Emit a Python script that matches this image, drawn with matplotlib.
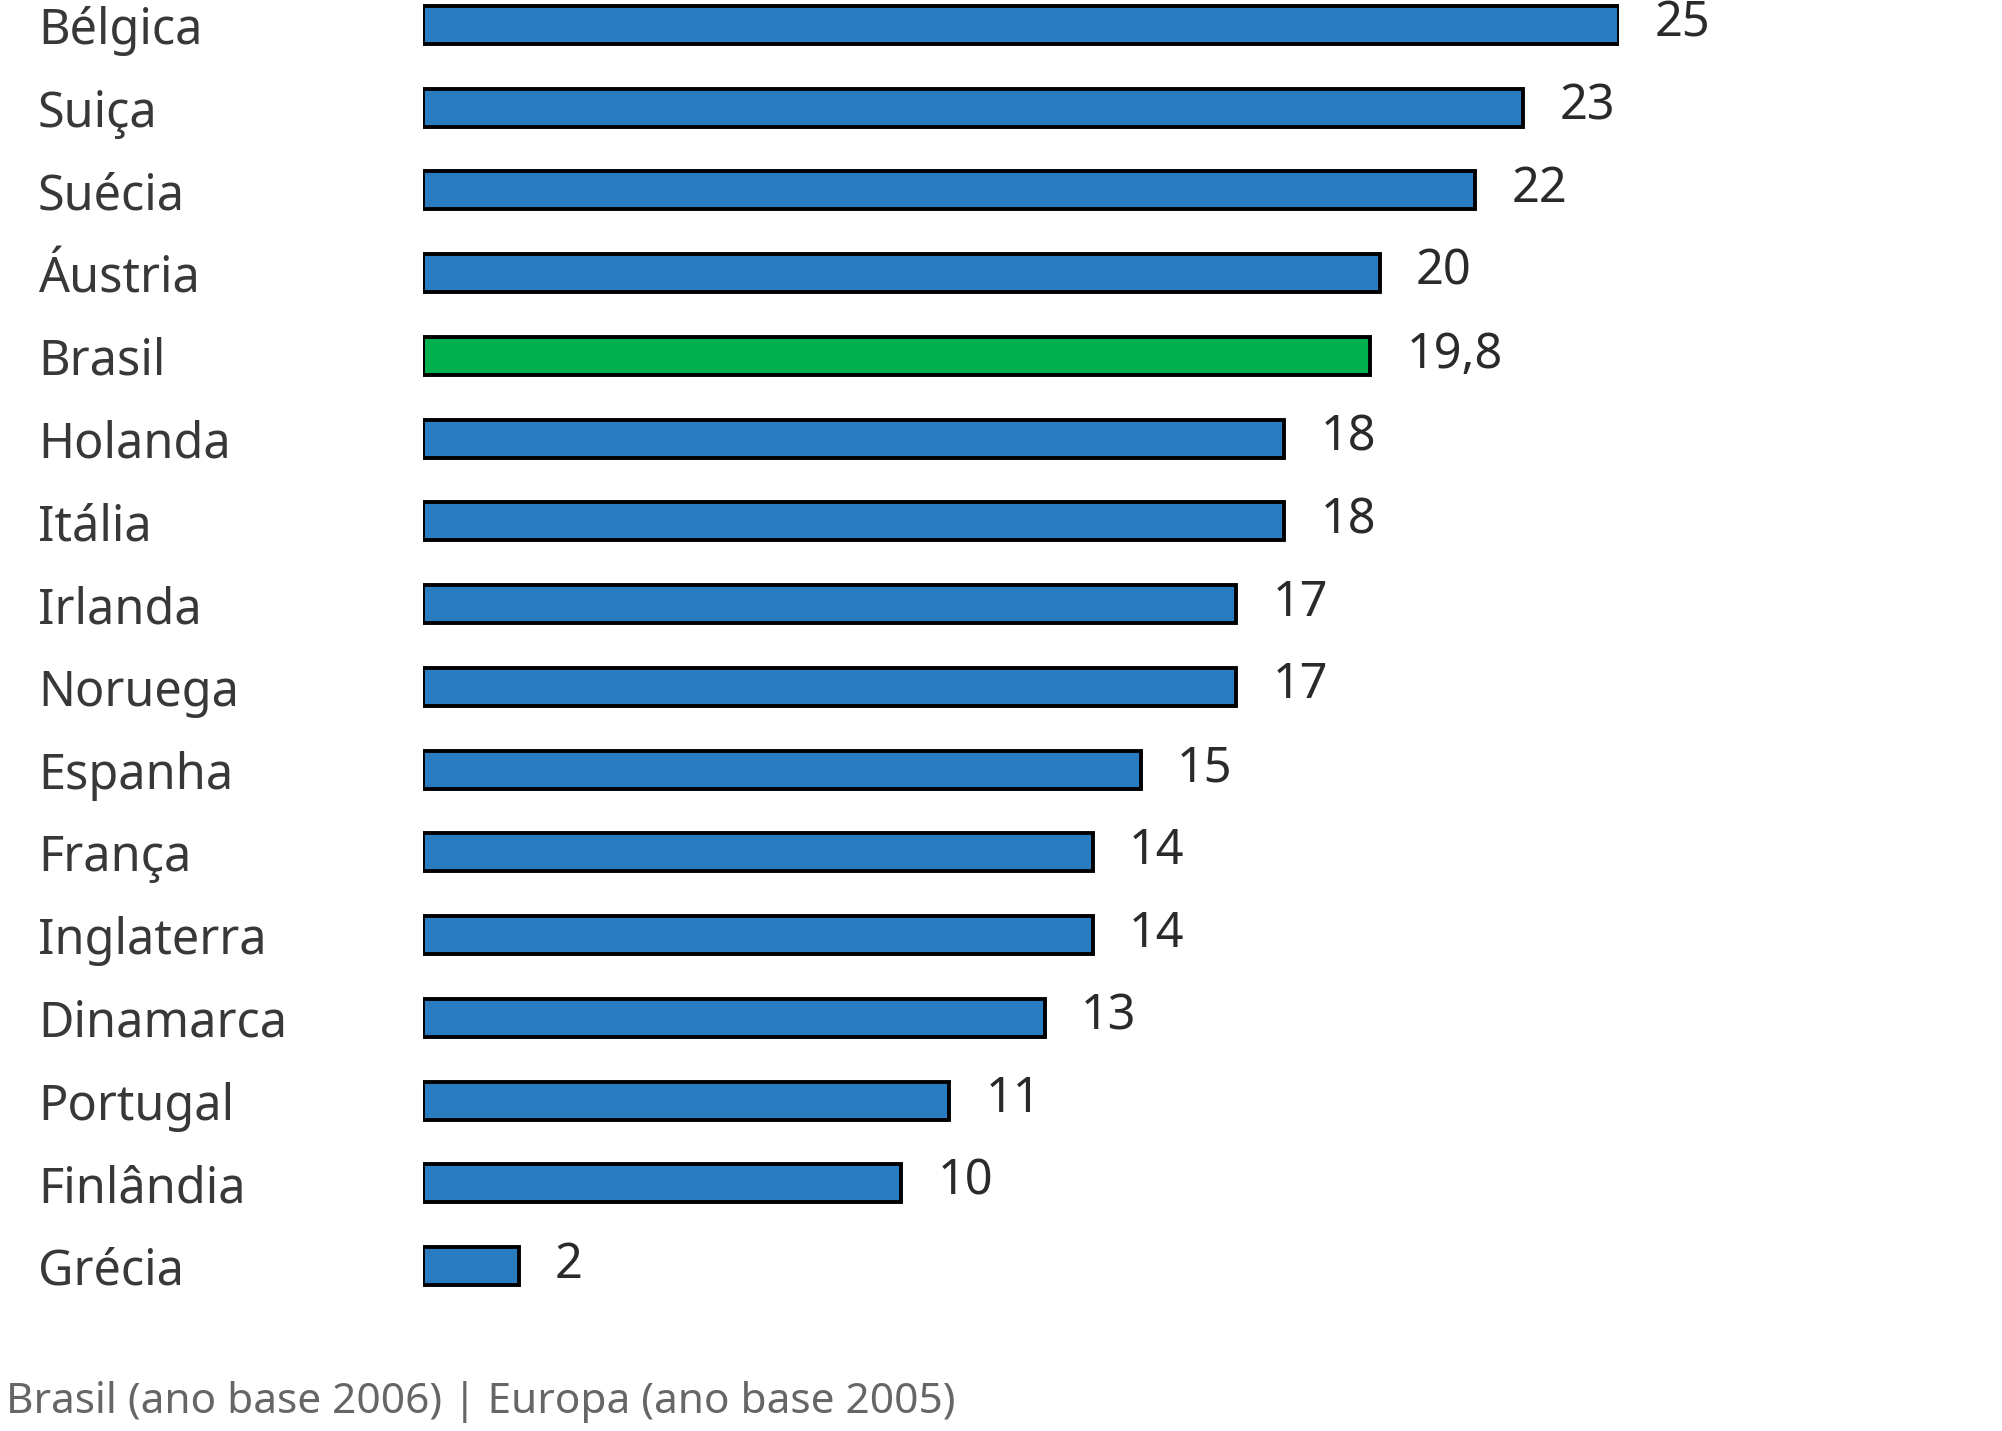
import numpy as np
import matplotlib
matplotlib.use('Agg')
import matplotlib.pyplot as plt

# dados (ordem de cima para baixo)
paises = ['Bélgica', 'Suiça', 'Suécia', 'Áustria', 'Brasil', 'Holanda', 'Itália',
          'Irlanda', 'Noruega', 'Espanha', 'França', 'Inglaterra', 'Dinamarca',
          'Portugal', 'Finlândia', 'Grécia']
valores = [25, 23, 22, 20, 19.8, 18, 18, 17, 17, 15, 14, 14, 13, 11, 10, 2]
rotulos = ['25', '23', '22', '20', '19,8', '18', '18', '17', '17', '15', '14',
           '14', '13', '11', '10', '2']
destaque = 'Brasil'
nota = 'Brasil (ano base 2006) | Europa (ano base 2005)'

azul = '#2a7cc1'
verde = '#00b04f'

plt.rcParams['font.family'] = ['Noto Sans', 'DejaVu Sans']

W, H = 2002, 1431
fig = plt.figure(figsize=(W / 100, H / 100), dpi=100)
fig.patch.set_facecolor('white')

# posição do eixo em pixels -> fração da figura
x0, x25 = 423, 1619
yc_top, yc_bot = 25, 1266
passo = (yc_bot - yc_top) / (len(paises) - 1)
topo = yc_top - passo / 2
base = yc_bot + passo / 2
ax = fig.add_axes([x0 / W, 1 - base / H, (x25 - x0) / W, (base - topo) / H])

y = np.arange(len(paises))
cores = [verde if p == destaque else azul for p in paises]
ax.barh(y, valores, height=0.46, color=cores, edgecolor='black', linewidth=2.8)

ax.set_xlim(0, 25)
ax.set_ylim(len(paises) - 0.5, -0.5)

for i, (v, r) in enumerate(zip(valores, rotulos)):
    ax.annotate(r, (v, i), xytext=(26, 1), textcoords='offset points',
                ha='left', va='center', fontsize=35, color='#2a2a2a',
                annotation_clip=False)

ax.set_yticks(y)
ax.set_yticklabels(paises, fontsize=35, color='#383838')
for t in ax.get_yticklabels():
    t.set_ha('left')
ax.tick_params(axis='y', length=0, pad=(x0 - 38) * 0.72)
ax.set_xticks([])
for s in ax.spines.values():
    s.set_visible(False)

fig.text(6 / W, 1 - 1402 / H, nota, fontsize=30.5, color='#666666',
         ha='left', va='center')

fig.savefig('out.png', dpi=100, facecolor='white')
